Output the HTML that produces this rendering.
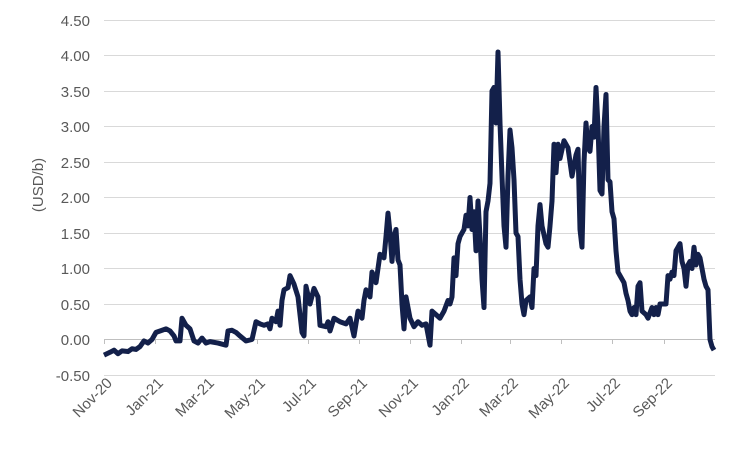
<!DOCTYPE html>
<html><head><meta charset="utf-8"><style>body{margin:0;background:#fff}svg{display:block}text{font-family:"Liberation Sans",sans-serif;fill:#595959;font-size:15px}</style></head><body>
<svg width="750" height="450" xmlns="http://www.w3.org/2000/svg">
<g stroke="#d9d9d9" stroke-width="1">
<line x1="104" x2="715" y1="20.5" y2="20.5"/><line x1="104" x2="715" y1="55.5" y2="55.5"/><line x1="104" x2="715" y1="91.5" y2="91.5"/><line x1="104" x2="715" y1="126.5" y2="126.5"/><line x1="104" x2="715" y1="162.5" y2="162.5"/><line x1="104" x2="715" y1="197.5" y2="197.5"/><line x1="104" x2="715" y1="233.5" y2="233.5"/><line x1="104" x2="715" y1="268.5" y2="268.5"/><line x1="104" x2="715" y1="304.5" y2="304.5"/><line x1="104" x2="715" y1="375.5" y2="375.5"/>
<line x1="104" x2="715" y1="339.5" y2="339.5" stroke="#bfbfbf"/>
</g>
<g stroke="#bfbfbf"><line x1="104.5" x2="104.5" y1="339" y2="344"/><line x1="155.5" x2="155.5" y1="339" y2="344"/><line x1="206.5" x2="206.5" y1="339" y2="344"/><line x1="257.5" x2="257.5" y1="339" y2="344"/><line x1="308.5" x2="308.5" y1="339" y2="344"/><line x1="359.5" x2="359.5" y1="339" y2="344"/><line x1="410.5" x2="410.5" y1="339" y2="344"/><line x1="461.5" x2="461.5" y1="339" y2="344"/><line x1="510.5" x2="510.5" y1="339" y2="344"/><line x1="561.5" x2="561.5" y1="339" y2="344"/><line x1="612.5" x2="612.5" y1="339" y2="344"/><line x1="664.5" x2="664.5" y1="339" y2="344"/></g>
<g text-anchor="end">
<text x="90" y="26">4.50</text><text x="90" y="61">4.00</text><text x="90" y="97">3.50</text><text x="90" y="132">3.00</text><text x="90" y="168">2.50</text><text x="90" y="203">2.00</text><text x="90" y="239">1.50</text><text x="90" y="274">1.00</text><text x="90" y="310">0.50</text><text x="90" y="345">0.00</text><text x="90" y="381">-0.50</text>
</g>
<text transform="translate(43,185) rotate(-90)" text-anchor="middle">(USD/b)</text>
<g text-anchor="end">
<text transform="translate(113,384) rotate(-45)">Nov-20</text><text transform="translate(164,384) rotate(-45)">Jan-21</text><text transform="translate(215,384) rotate(-45)">Mar-21</text><text transform="translate(266,384) rotate(-45)">May-21</text><text transform="translate(317,384) rotate(-45)">Jul-21</text><text transform="translate(368,384) rotate(-45)">Sep-21</text><text transform="translate(419,384) rotate(-45)">Nov-21</text><text transform="translate(470,384) rotate(-45)">Jan-22</text><text transform="translate(519,384) rotate(-45)">Mar-22</text><text transform="translate(570,384) rotate(-45)">May-22</text><text transform="translate(621,384) rotate(-45)">Jul-22</text><text transform="translate(673,384) rotate(-45)">Sep-22</text>
</g>
<g transform="translate(0,339.5) scale(1,-71)">
<polyline fill="none" stroke="#13204a" stroke-width="5" stroke-linejoin="round" vector-effect="non-scaling-stroke" points="104,-0.22 110,-0.18 114,-0.15 118,-0.2 122,-0.16 128,-0.17 132,-0.13 136,-0.14 140,-0.1 144,-0.02 148,-0.05 152,0 156,0.1 160,0.12 166,0.15 170,0.12 174,0.05 176,-0.02 180,-0.02 182,0.3 186,0.2 190,0.15 194,-0.02 198,-0.05 202,0.02 206,-0.05 210,-0.03 218,-0.05 226,-0.08 228,0.12 232,0.13 236,0.1 240,0.05 246,-0.02 252,0 256,0.25 260,0.22 264,0.2 268,0.22 270,0.15 272,0.3 276,0.25 278,0.4 280,0.2 282,0.55 284,0.7 288,0.73 290,0.9 294,0.78 298,0.6 302,0.1 304,0.05 306,0.75 310,0.5 314,0.72 318,0.6 320,0.2 326,0.18 328,0.25 330,0.12 334,0.3 340,0.25 346,0.22 350,0.3 354,0.05 358,0.4 362,0.3 364,0.55 366,0.7 370,0.6 372,0.95 376,0.8 380,1.2 384,1.15 386,1.45 388,1.78 390,1.5 392,1.1 394,1.45 396,1.55 398,1.12 400,1.05 402,0.5 404,0.15 406,0.6 410,0.3 414,0.18 418,0.25 422,0.2 426,0.22 430,-0.08 432,0.4 436,0.35 440,0.3 444,0.4 448,0.55 450,0.5 452,0.6 454,1.15 456,0.9 458,1.35 460,1.45 464,1.55 466,1.75 468,1.6 470,2 472,1.55 474,1.8 476,1.25 478,1.95 480,1.45 482,0.85 484,0.45 486,1.8 488,1.95 490,2.2 492,3.5 494,3.55 496,3.05 498,4.05 500,3.05 502,2.3 504,1.6 506,1.3 508,2.3 510,2.95 512,2.7 514,2.25 516,1.5 518,1.45 520,0.85 522,0.5 524,0.35 526,0.55 530,0.6 532,0.45 534,1 536,0.9 538,1.6 540,1.9 542,1.6 546,1.35 548,1.3 550,1.6 552,1.95 554,2.75 556,2.35 558,2.75 560,2.55 564,2.8 568,2.7 570,2.5 572,2.3 576,2.6 578,2.68 580,1.55 582,1.3 584,2.5 586,3.05 588,2.7 590,2.65 592,3 594,2.85 596,3.55 598,3 600,2.1 602,2.05 604,3 606,3.45 608,2.25 610,2.22 612,1.8 614,1.7 616,1.25 618,0.95 620,0.9 624,0.8 626,0.65 628,0.55 630,0.4 632,0.35 634,0.45 636,0.35 638,0.75 640,0.8 642,0.4 646,0.35 648,0.3 652,0.45 654,0.35 656,0.45 658,0.35 660,0.5 664,0.5 666,0.5 668,0.9 670,0.85 672,0.95 674,0.9 676,1.25 678,1.3 680,1.35 682,1.1 684,1 686,0.75 688,1.05 690,1.1 692,1 694,1.3 696,1.05 698,1.2 700,1.15 702,1 704,0.85 706,0.75 708,0.7 710,0 712,-0.1 714,-0.15"/>
</g>
</svg>
</body></html>
